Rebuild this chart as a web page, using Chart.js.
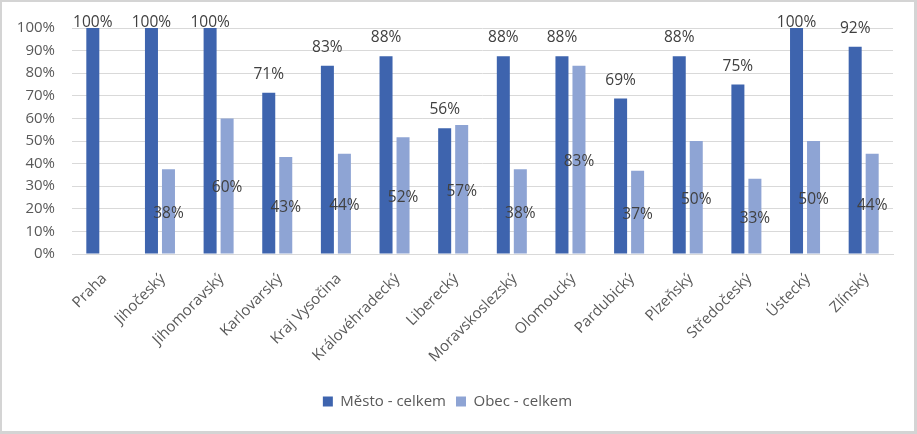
<!DOCTYPE html>
<html>
<head>
<meta charset="utf-8">
<script src="https://cdn.jsdelivr.net/npm/chart.js@4/dist/chart.umd.min.js"></script>
<style>
  html, body { margin: 0; padding: 0; background: #d4d4d4; }
  #wrap { position: absolute; left: 2px; top: 2px; width: 912px; height: 429px; background: #fff; }
</style>
</head>
<body>
<div id="wrap"><canvas id="chart" width="912" height="429"></canvas></div>
<script>
const regions = ['Praha', 'Jihočeský', 'Jihomoravský', 'Karlovarský', 'Kraj Vysočina', 'Královéhradecký',
  'Liberecký', 'Moravskoslezský', 'Olomoucký', 'Pardubický', 'Plzeňský', 'Středočeský', 'Ústecký', 'Zlínský'];
const mesto = [100, 100, 100, 71.4, 83.3, 87.5, 55.6, 87.5, 87.5, 68.8, 87.5, 75, 100, 91.7];
const obec = [null, 37.5, 60, 42.9, 44.4, 51.7, 57.1, 37.5, 83.3, 36.8, 50, 33.3, 50, 44.4];
const yTicks = [0, 10, 20, 30, 40, 50, 60, 70, 80, 90, 100];

const FONT = "'Open Sans', 'Noto Sans', sans-serif";

// labels: Město above the bar, Obec in the middle of the bar
const barLabels = {
  id: 'barLabels',
  afterDatasetsDraw(chart) {
    const ctx = chart.ctx;
    const top = chart.chartArea.top;
    ctx.save();
    ctx.font = '15.5px ' + FONT;
    ctx.fillStyle = '#404040';
    ctx.textAlign = 'center';
    chart.data.datasets.forEach((ds, di) => {
      const meta = chart.getDatasetMeta(di);
      meta.data.forEach((bar, i) => {
        const v = ds.data[i];
        if (v == null) return;
        const txt = Math.round(v) + '%';
        if (di === 0) {
          ctx.textBaseline = 'alphabetic';
          ctx.fillText(txt, bar.x, Math.max(bar.y - 14, top - 1));
        } else {
          ctx.textBaseline = 'middle';
          ctx.fillText(txt, bar.x, (bar.y + bar.base) / 2 + 2);
        }
      });
    });
    ctx.restore();
  }
};

new Chart(document.getElementById('chart'), {
  type: 'bar',
  data: {
    labels: regions,
    datasets: [
      { label: 'Město - celkem', data: mesto, backgroundColor: '#3e64ae', categoryPercentage: 0.58, barPercentage: 0.765 },
      { label: 'Obec - celkem', data: obec, backgroundColor: '#8ea4d4', categoryPercentage: 0.58, barPercentage: 0.765 }
    ]
  },
  options: {
    responsive: false,
    animation: false,
    layout: { padding: { top: 17, right: 21, left: 0, bottom: 12 } },
    plugins: {
      tooltip: { enabled: false },
      legend: {
        position: 'bottom',
        labels: { color: '#595959', font: { family: FONT, size: 15 }, boxWidth: 10, boxHeight: 10, padding: 10 }
      }
    },
    scales: {
      y: {
        min: 0, max: 100,
        afterBuildTicks: (s) => { s.ticks = yTicks.map(v => ({ value: v })); },
        afterFit: (s) => { s.width = 70; },
        grid: { color: '#d9d9d9', drawTicks: false },
        border: { display: false },
        ticks: { color: '#595959', font: { family: FONT, size: 15 }, padding: 17, callback: v => v + '%' }
      },
      x: {
        afterFit: (s) => { s.height = 130; },
        grid: { display: false },
        border: { color: '#d9d9d9' },
        ticks: { color: '#595959', font: { family: FONT, size: 15 }, maxRotation: 45, minRotation: 45, padding: 8, labelOffset: 3 }
      }
    }
  },
  plugins: [barLabels]
});
</script>
</body>
</html>
